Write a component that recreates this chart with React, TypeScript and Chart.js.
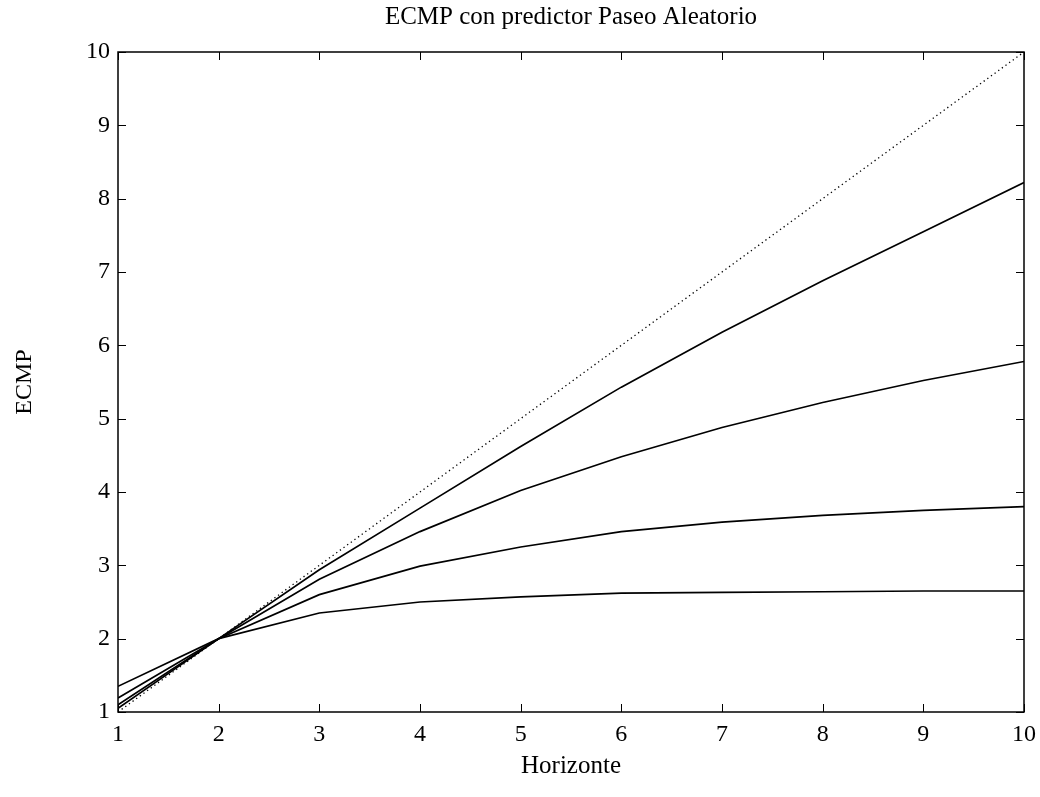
import React, { useEffect, useRef } from "react";
import { Chart, registerables } from "chart.js";

Chart.register(...registerables);

const horizons = [1, 2, 3, 4, 5, 6, 7, 8, 9, 10];
const randomWalk = [1, 2, 3, 4, 5, 6, 7, 8, 9, 10];
const seriesA = [1.05, 2, 2.94, 3.78, 4.62, 5.43, 6.18, 6.88, 7.55, 8.22];
const seriesB = [1.1, 2, 2.81, 3.46, 4.02, 4.48, 4.88, 5.22, 5.52, 5.78];
const seriesC = [1.19, 2, 2.6, 2.99, 3.25, 3.46, 3.59, 3.68, 3.75, 3.8];
const seriesD = [1.35, 2, 2.35, 2.5, 2.57, 2.62, 2.63, 2.64, 2.65, 2.65];
const tickValues = [1, 2, 3, 4, 5, 6, 7, 8, 9, 10];

const FONT = "'Liberation Serif', 'Times New Roman', serif";

const boxPlugin = {
  id: "matlabBox",
  afterDraw(chart: any) {
    const { ctx, chartArea } = chart;
    const { left, right, top, bottom } = chartArea;
    const xs = chart.scales.x;
    const ys = chart.scales.y;
    const len = 8;
    ctx.save();
    ctx.strokeStyle = "#000";
    ctx.lineWidth = 1.5;
    ctx.strokeRect(left, top, right - left, bottom - top);
    ctx.lineWidth = 1;
    ctx.beginPath();
    tickValues.forEach((v) => {
      const px = Math.round(xs.getPixelForValue(v)) + 0.5;
      ctx.moveTo(px, bottom);
      ctx.lineTo(px, bottom - len);
      ctx.moveTo(px, top);
      ctx.lineTo(px, top + len);
      const py = Math.round(ys.getPixelForValue(v)) + 0.5;
      ctx.moveTo(left, py);
      ctx.lineTo(left + len, py);
      ctx.moveTo(right, py);
      ctx.lineTo(right - len, py);
    });
    ctx.stroke();
    ctx.restore();
  },
};

function makeLine(label: string, data: number[], dotted = false) {
  return {
    label,
    data: horizons.map((h, i) => ({ x: h, y: data[i] })),
    borderColor: "#000",
    backgroundColor: "#000",
    borderWidth: dotted ? 1.3 : 1.7,
    borderDash: dotted ? [1.3, 3.2] : [],
    pointRadius: 0,
    tension: 0,
    fill: false,
  };
}

export default function App() {
  const ref = useRef<HTMLCanvasElement | null>(null);
  useEffect(() => {
    if (!ref.current) return;
    const chart = new Chart(ref.current, {
      type: "line",
      data: {
        datasets: [
          makeLine("Paseo aleatorio", randomWalk, true),
          makeLine("A", seriesA),
          makeLine("B", seriesB),
          makeLine("C", seriesC),
          makeLine("D", seriesD),
        ],
      },
      plugins: [boxPlugin],
      options: {
        animation: false,
        responsive: false,
        layout: { padding: { left: 0, right: 16, top: 0, bottom: 0 } },
        plugins: {
          legend: { display: false },
          tooltip: { enabled: false },
          title: {
            display: true,
            fullSize: false,
            text: "ECMP con predictor Paseo Aleatorio",
            color: "#000",
            font: { family: FONT, size: 25, weight: "normal" },
            padding: { top: 2, bottom: 20 },
          },
        },
        scales: {
          x: {
            type: "linear",
            min: 1,
            max: 10,
            afterFit: (s: any) => {
              s.height = 85;
              s.paddingLeft = 0;
              s.paddingRight = 0;
            },
            afterBuildTicks: (s: any) => {
              s.ticks = tickValues.map((v) => ({ value: v }));
            },
            ticks: {
              color: "#000",
              font: { family: FONT, size: 24 },
              padding: 8,
              maxRotation: 0,
            },
            grid: { display: false, drawTicks: false },
            border: { display: false },
            title: {
              display: true,
              text: "Horizonte",
              color: "#000",
              font: { family: FONT, size: 25 },
              padding: { top: 0, bottom: 16 },
            },
          },
          y: {
            type: "linear",
            min: 1,
            max: 10,
            afterFit: (s: any) => {
              s.width = 118;
              s.paddingTop = 0;
              s.paddingBottom = 0;
            },
            afterBuildTicks: (s: any) => {
              s.ticks = tickValues.map((v) => ({ value: v }));
            },
            ticks: {
              color: "#000",
              font: { family: FONT, size: 24 },
              padding: 8,
            },
            grid: { display: false, drawTicks: false },
            border: { display: false },
            title: {
              display: true,
              text: "ECMP",
              color: "#000",
              font: { family: FONT, size: 24 },
              padding: { top: 10, bottom: 0 },
            },
          },
        },
      },
    } as any);
    return () => chart.destroy();
  }, []);
  return (
    <div style={{ position: "absolute", left: 0, top: 0, width: 1040, height: 797, background: "#fff" }}>
      <canvas ref={ref} width={1040} height={797} />
    </div>
  );
}
